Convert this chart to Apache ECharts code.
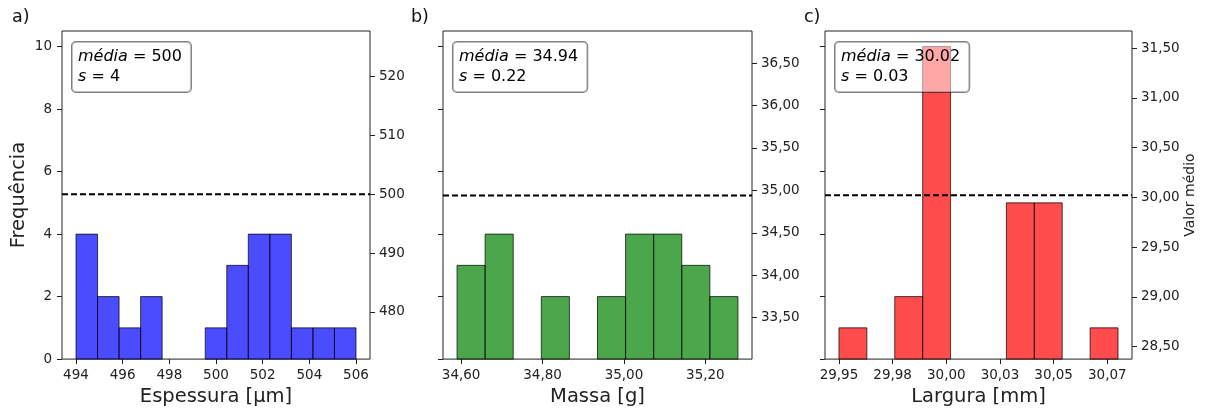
<!DOCTYPE html>
<html><head><meta charset="utf-8">
<script src="https://cdn.jsdelivr.net/npm/echarts@6/dist/echarts.min.js"></script>
<style>html,body{margin:0;padding:0;background:#fff}#c{width:1212px;height:412px}</style>
</head><body><div id="c"></div>
<script>
// ---------- Panel a: Espessura ----------
const countsA = [4, 2, 1, 2, 0, 0, 1, 3, 4, 4, 1, 1, 1];
const binRangeA = [494, 506];
const meanA = 500;
const statA = ['500', '4'];
const xTicksA = [494, 496, 498, 500, 502, 504, 506];
const xTickLabelsA = ['494', '496', '498', '500', '502', '504', '506'];
const rTicksA = [480, 490, 500, 510, 520];
const rTickLabelsA = ['480', '490', '500', '510', '520'];

// ---------- Panel b: Massa ----------
const countsB = [3, 4, 0, 2, 0, 2, 4, 4, 3, 2];
const binRangeB = [34.59, 35.28];
const meanB = 34.94;
const statB = ['34.94', '0.22'];
const xTicksB = [34.6, 34.8, 35.0, 35.2];
const xTickLabelsB = ['34,60', '34,80', '35,00', '35,20'];
const rTicksB = [33.5, 34.0, 34.5, 35.0, 35.5, 36.0, 36.5];
const rTickLabelsB = ['33,50', '34,00', '34,50', '35,00', '35,50', '36,00', '36,50'];

// ---------- Panel c: Largura ----------
const countsC = [1, 0, 2, 10, 0, 0, 5, 5, 0, 1];
const binRangeC = [29.95, 30.08];
const meanC = 30.02;
const statC = ['30.02', '0.03'];
const xTicksC = [29.95, 29.975, 30.0, 30.025, 30.05, 30.075];
const xTickLabelsC = ['29,95', '29,98', '30,00', '30,03', '30,05', '30,07'];
const rTicksC = [28.5, 29.0, 29.5, 30.0, 30.5, 31.0, 31.5];
const rTickLabelsC = ['28,50', '29,00', '29,50', '30,00', '30,50', '31,00', '31,50'];

const countTicks = [0, 2, 4, 6, 8, 10];
const countTickLabels = ['0', '2', '4', '6', '8', '10'];

const xNames = ['Espessura [µm]', 'Massa [g]', 'Largura [mm]'];
const panelLetters = ['a)', 'b)', 'c)'];

// layout / style (not data)
const FONT = "'DejaVu Sans', sans-serif";
const TXT = '#222';
const panels = [
  {counts: countsA, range: binRangeA, mean: meanA, stat: statA, xt: xTicksA, xl: xTickLabelsA, rt: rTicksA, rl: rTickLabelsA,
   xlim: [493.4, 506.6], rlim: [472.0, 527.7], color: 'rgba(0,0,255,0.7)', left: 62, width: 308, letterX: 12},
  {counts: countsB, range: binRangeB, mean: meanB, stat: statB, xt: xTicksB, xl: xTickLabelsB, rt: rTicksB, rl: rTickLabelsB,
   xlim: [34.5555, 35.3145], rlim: [33.01, 36.88], color: 'rgba(0,128,0,0.7)', left: 443, width: 309, letterX: 411},
  {counts: countsC, range: binRangeC, mean: meanC, stat: statC, xt: xTicksC, xl: xTickLabelsC, rt: rTicksC, rl: rTickLabelsC,
   xlim: [29.9435, 30.0865], rlim: [28.373, 31.673], color: 'rgba(255,0,0,0.7)', left: 825, width: 307, letterX: 804}
];
const TOP = 31, HEIGHT = 330;

function lookup(ticks, labels) {
  return function (v) {
    for (let i = 0; i < ticks.length; i++) if (Math.abs(ticks[i] - v) < 1e-7) return labels[i];
    return '';
  };
}

const grid = [], xAxis = [], yAxis = [], series = [], graphic = [];
panels.forEach((p, i) => {
  grid.push({left: p.left, top: TOP, width: p.width, height: HEIGHT, show: true,
    borderColor: '#222', borderWidth: 1, backgroundColor: 'transparent', containLabel: false});
  xAxis.push({type: 'value', gridIndex: i, min: p.xlim[0], max: p.xlim[1],
    name: xNames[i], nameLocation: 'middle', nameGap: 27,
    nameTextStyle: {fontFamily: FONT, fontSize: 19.5, color: TXT},
    axisLine: {show: false}, splitLine: {show: false},
    axisTick: {show: true, customValues: p.xt, length: 5, lineStyle: {color: '#222'}},
    axisLabel: {customValues: p.xt, formatter: lookup(p.xt, p.xl), margin: 9,
      fontFamily: FONT, fontSize: 13.5, color: TXT}});
  yAxis.push({type: 'value', gridIndex: i, min: 0, max: 10.5, position: 'left',
    name: i === 0 ? 'Frequência' : '', nameLocation: 'middle', nameGap: 33, nameRotate: 90,
    nameTextStyle: {fontFamily: FONT, fontSize: 19.5, color: TXT},
    axisLine: {show: false}, splitLine: {show: false},
    axisTick: {show: true, customValues: countTicks, length: 5, lineStyle: {color: '#222'}},
    axisLabel: {show: i === 0, customValues: countTicks, formatter: lookup(countTicks, countTickLabels),
      margin: 10, fontFamily: FONT, fontSize: 13.5, color: TXT}});
  yAxis.push({type: 'value', gridIndex: i, min: p.rlim[0], max: p.rlim[1], position: 'right',
    name: i === 2 ? 'Valor médio' : '', nameLocation: 'middle', nameGap: 51, nameRotate: 90,
    nameTextStyle: {fontFamily: FONT, fontSize: 14, color: TXT, verticalAlign: 'top'},
    axisLine: {show: false}, splitLine: {show: false},
    axisTick: {show: true, customValues: p.rt, length: 5, lineStyle: {color: '#222'}},
    axisLabel: {customValues: p.rt, formatter: lookup(p.rt, p.rl), margin: 9,
      fontFamily: FONT, fontSize: 13.5, color: TXT}});

  const n = p.counts.length;
  const w = (p.range[1] - p.range[0]) / n;
  const data = [];
  p.counts.forEach((c, k) => { if (c > 0) data.push([p.range[0] + k * w, p.range[0] + (k + 1) * w, c]); });
  series.push({type: 'custom', xAxisIndex: i, yAxisIndex: 2 * i, data: data, z: 2,
    encode: {x: [0, 1], y: 2},
    renderItem: function (params, api) {
      const a = api.coord([api.value(0), api.value(2)]);
      const b = api.coord([api.value(1), 0]);
      return {type: 'rect', shape: {x: a[0], y: a[1], width: b[0] - a[0], height: b[1] - a[1]},
        style: {fill: p.color, stroke: 'rgba(0,0,0,0.7)', lineWidth: 1}};
    }});
  series.push({type: 'line', xAxisIndex: i, yAxisIndex: 2 * i + 1, z: 5, silent: true,
    data: [[p.xlim[0], p.mean], [p.xlim[1], p.mean]], symbol: 'none',
    lineStyle: {color: '#000', width: 2, type: [6, 3]}});

  graphic.push({type: 'text', x: p.left + 10, y: 42, z: 100,
    style: {text: '{it|média} = ' + p.stat[0] + '\n{it|s} = ' + p.stat[1],
      fontFamily: FONT, fontSize: 16, lineHeight: 20, fill: '#000',
      rich: {it: {fontFamily: FONT, fontSize: 16, fontStyle: 'italic', lineHeight: 20, fill: '#000'}},
      backgroundColor: 'rgba(255,255,255,0.5)', borderColor: 'rgba(0,0,0,0.5)', borderWidth: 1,
      borderRadius: 4, padding: [5, 9, 5, 6]}});
  graphic.push({type: 'text', x: p.letterX, y: 8, z: 100,
    style: {text: panelLetters[i], fontFamily: FONT, fontSize: 17.5, fill: '#111'}});
});

const chart = echarts.init(document.getElementById('c'), null, {renderer: 'canvas'});
chart.setOption({animation: false, backgroundColor: '#fff', grid, xAxis, yAxis, series, graphic});
</script></body></html>
